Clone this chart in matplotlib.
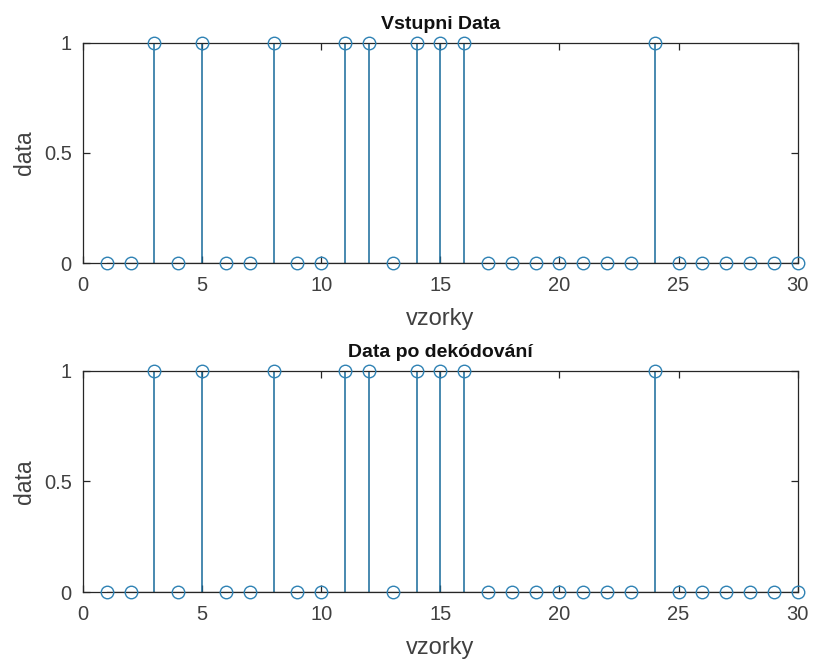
import numpy as np
import matplotlib.pyplot as plt

plt.rcParams['font.family'] = ['Liberation Sans', 'DejaVu Sans']

# samples and bit values (same input and decoded data)
samples = list(range(1, 31))
input_data = [0, 0, 1, 0, 1, 0, 0, 1, 0, 0, 1, 1, 0, 1, 1, 1, 0, 0, 0, 0, 0, 0, 0, 1, 0, 0, 0, 0, 0, 0]
decoded_data = [0, 0, 1, 0, 1, 0, 0, 1, 0, 0, 1, 1, 0, 1, 1, 1, 0, 0, 0, 0, 0, 0, 0, 1, 0, 0, 0, 0, 0, 0]
titles = ['Vstupni Data', 'Data po dekódování']

STEM = '#16699a'
MARK = '#2f82b4'
TXT = '#404040'

fig = plt.figure(figsize=(8.15, 6.62), dpi=100)
ax1 = fig.add_axes([0.1018, 0.6027, 0.877, 0.3330])
ax2 = fig.add_axes([0.1018, 0.1057, 0.877, 0.3340])

for ax, vals, title in zip([ax1, ax2], [input_data, decoded_data], titles):
    markerline, stemlines, baseline = ax.stem(samples, vals, basefmt='k-')
    markerline.set_marker('o')
    markerline.set_markerfacecolor('none')
    markerline.set_markeredgecolor(MARK)
    markerline.set_markersize(9)
    markerline.set_markeredgewidth(1.0)
    markerline.set_clip_on(False)
    markerline.set_zorder(5)
    stemlines.set_color(STEM)
    stemlines.set_linewidth(1.1)
    baseline.set_linewidth(0.9)
    baseline.set_color('#262626')

    ax.set_xlim(0, 30)
    ax.set_ylim(0, 1)
    ax.set_xticks([0, 5, 10, 15, 20, 25, 30])
    ax.set_yticks([0, 0.5, 1])
    ax.set_yticklabels(['0', '0.5', '1'])
    ax.tick_params(direction='in', top=True, right=True, length=5, width=0.9,
                   color='#262626', labelcolor=TXT, labelsize=14.5)
    ax.tick_params(axis='x', pad=9)
    ax.tick_params(axis='y', pad=8)
    for sp in ax.spines.values():
        sp.set_linewidth(0.9)
        sp.set_color('#262626')
    ax.set_xlabel('vzorky', fontsize=17, color=TXT, labelpad=10)
    ax.set_ylabel('data', fontsize=16.5, color=TXT, labelpad=6)
    ax.set_title(title, fontsize=14, fontweight='bold', pad=10, color='#111111')

fig.savefig('out.png', dpi=100)
